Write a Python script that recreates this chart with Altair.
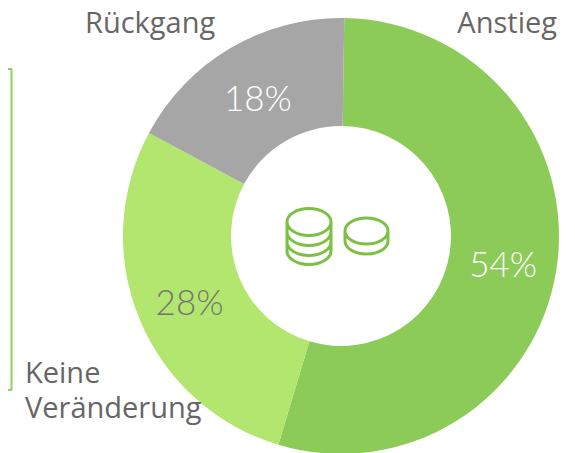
import altair as alt
import pandas as pd
import math

categories = ["Anstieg", "Keine Veränderung", "Rückgang"]
shares = [54.4, 28.2, 17.4]
percent_labels = ["54%", "28%", "18%"]
colors = ["#8CCB57", "#B3E66F", "#A6A6A6"]
text_colors = ["#FFFFFF", "#737373", "#FFFFFF"]
order = [0, 1, 2]

W, H = 559, 447
CX, CY = 333, 228
ROT = 0.015

df = pd.DataFrame({"cat": categories, "share": shares, "pct": percent_labels,
                   "order": order, "tc": text_colors})

base = alt.Chart(df).encode(
    theta=alt.Theta("share:Q", stack=True,
                    scale=alt.Scale(domain=[0, 100], range=[ROT, 2 * math.pi + ROT])),
    order=alt.Order("order:O"),
    x=alt.value(CX), y=alt.value(CY),
)
arcs = base.mark_arc(outerRadius=218, innerRadius=110).encode(
    color=alt.Color("cat:N", scale=alt.Scale(domain=categories, range=colors), legend=None)
)
pcts = base.mark_text(radius=164, dy=5, font="Lato", fontWeight=300, fontSize=35).encode(
    text="pct:N", color=alt.Color("tc:N", scale=None)
)

def label(txt, x, y, align):
    return alt.Chart(pd.DataFrame({"t": [txt]})).mark_text(
        font="Open Sans", fontSize=29, color="#666666", align=align, baseline="alphabetic"
    ).encode(text="t:N", x=alt.value(x), y=alt.value(y))

labels = [label("Rückgang", 77, 25, "left"), label("Anstieg", 549, 25, "right"),
          label("Keine", 17, 375, "left"), label("Veränderung", 17, 410, "left")]

def seg(x, x2, y, y2):
    return alt.Chart(pd.DataFrame({"a": [0]})).mark_rule(color="#8FD05E", strokeWidth=2).encode(
        x=alt.value(x), x2=alt.value(x2), y=alt.value(y), y2=alt.value(y2))

box = [seg(0, 4, 61, 61), seg(3.5, 3.5, 61, 382), seg(0, 4, 382, 382)]

coin_left = ("M-22,-14 A22,13.5,0,1,1,22,-14 A22,13.5,0,1,1,-22,-14 Z "
             "M-22,-14 L-22,15 A22,13.5,0,0,0,22,15 L22,-14 "
             "M-22,-4 A22,13.5,0,0,0,22,-4 M-22,6 A22,13.5,0,0,0,22,6")
coin_right = ("M-21.5,-5 A21.5,13,0,1,1,21.5,-5 A21.5,13,0,1,1,-21.5,-5 Z "
              "M-21.5,-5 L-21.5,5 A21.5,13,0,0,0,21.5,5 L21.5,-5")

def icon(path, x, y):
    return alt.Chart(pd.DataFrame({"a": [0]})).mark_point(
        shape=path, size=4, filled=False, stroke="#7CC142", strokeWidth=3, opacity=1
    ).encode(x=alt.value(x), y=alt.value(y))

icons = [icon(coin_left, 301, 228), icon(coin_right, 358.5, 228)]

chart = alt.layer(arcs, pcts, *labels, *box, *icons).properties(
    width=W, height=H, padding=0, autosize=alt.AutoSizeParams(type="none")
).configure_view(stroke=None)

chart.save("out.html", embed_options={"renderer": "svg", "actions": False})
